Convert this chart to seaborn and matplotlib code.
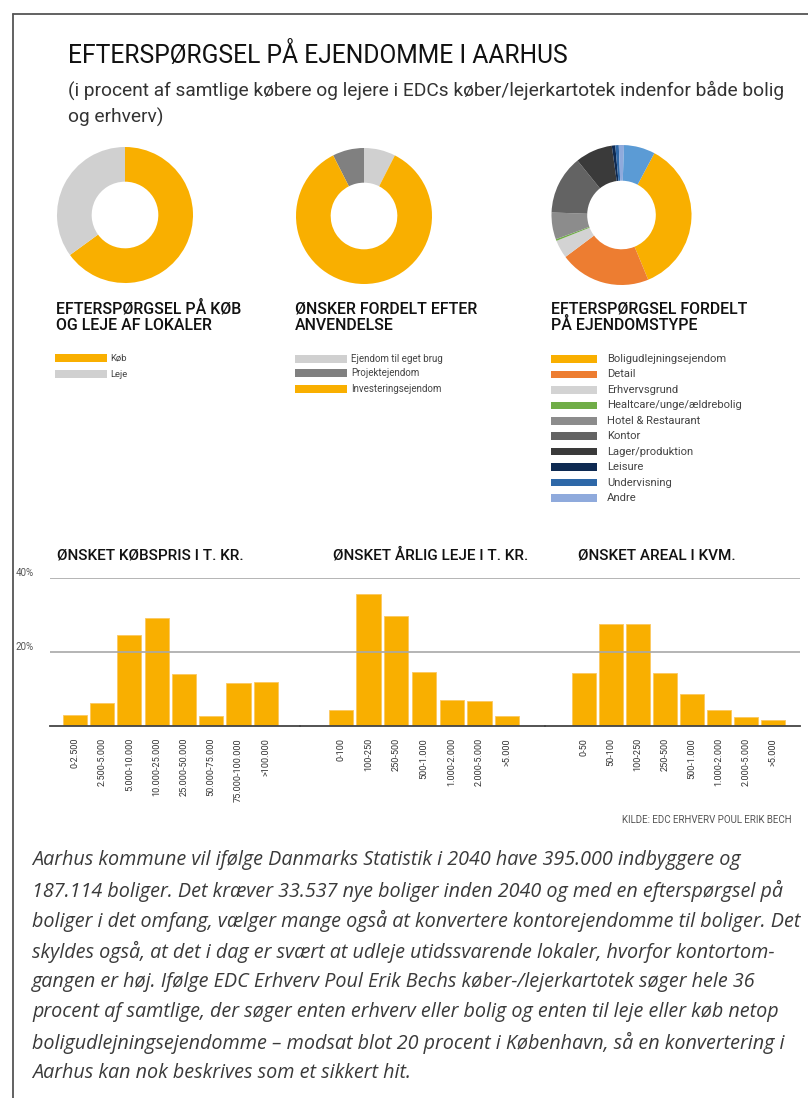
import matplotlib
matplotlib.use("Agg")
import matplotlib.pyplot as plt
from matplotlib.lines import Line2D
import seaborn as sns
import pandas as pd

# ---------------- data ----------------
title = "EFTERSPØRGSEL PÅ EJENDOMME I AARHUS"
subtitle_lines = ["(i procent af samtlige købere og lejere i EDCs køber/lejerkartotek indenfor både bolig",
                  "og erhverv)"]

donut1_title = ["EFTERSPØRGSEL PÅ KØB", "OG LEJE AF LOKALER"]
donut1_labels = ["Køb", "Leje"]
donut1_values = [65, 35]

donut2_title = ["ØNSKER FORDELT EFTER", "ANVENDELSE"]
donut2_labels = ["Ejendom til eget brug", "Projektejendom", "Investeringsejendom"]
donut2_values = [7.5, 7.5, 85]

donut3_title = ["EFTERSPØRGSEL FORDELT", "PÅ EJENDOMSTYPE"]
donut3_labels = ["Boligudlejningsejendom", "Detail", "Erhvervsgrund", "Healtcare/unge/ældrebolig",
                 "Hotel & Restaurant", "Kontor", "Lager/produktion", "Leisure", "Undervisning", "Andre",
                 "Øvrige"]
donut3_values = [36, 21, 4.2, 0.4, 6.2, 13.6, 8.6, 0.8, 0.8, 1.2, 7.2]
donut3_legend_count = 10

bar1_title = "ØNSKET KØBSPRIS I T. KR."
bar1_cats = ["0-2.500", "2.500-5.000", "5.000-10.000", "10.000-25.000", "25.000-50.000",
             "50.000-75.000", "75.000-100.000", ">100.000"]
bar1_vals = [2.8, 6.1, 24.6, 29.0, 14.0, 2.5, 11.4, 11.9]

bar2_title = "ØNSKET ÅRLIG LEJE I T. KR."
bar2_cats = ["0-100", "100-250", "250-500", "500-1.000", "1.000-2.000", "2.000-5.000", ">5.000"]
bar2_vals = [4.3, 35.6, 29.7, 14.5, 7.0, 6.6, 2.5]

bar3_title = "ØNSKET AREAL I KVM."
bar3_cats = ["0-50", "50-100", "100-250", "250-500", "500-1.000", "1.000-2.000", "2.000-5.000", ">5.000"]
bar3_vals = [14.3, 27.6, 27.6, 14.3, 8.5, 4.2, 2.4, 1.4]

y_ticks = [20, 40]
y_ticklabels = ["20%", "40%"]

source = "KILDE: EDC ERHVERV POUL ERIK BECH"

paragraph = [
    "Aarhus kommune vil ifølge Danmarks Statistik i 2040 have 395.000 indbyggere og",
    "187.114 boliger. Det kræver 33.537 nye boliger inden 2040 og med en efterspørgsel på",
    "boliger i det omfang, vælger mange også at konvertere kontorejendomme til boliger. Det",
    "skyldes også, at det i dag er svært at udleje utidssvarende lokaler, hvorfor kontortom-",
    "gangen er høj. Ifølge EDC Erhverv Poul Erik Bechs køber-/lejerkartotek søger hele 36",
    "procent af samtlige, der søger enten erhverv eller bolig og enten til leje eller køb netop",
    "boligudlejningsejendomme – modsat blot 20 procent i København, så en konvertering i",
    "Aarhus kan nok beskrives som et sikkert hit.",
]

# ---------------- style ----------------
ORANGE = "#F9AF00"
c1 = [ORANGE, "#D0D0D0"]
c2 = ["#D0D0D0", "#808080", ORANGE]
c3 = [ORANGE, "#ED7D31", "#D3D3D3", "#70AD47", "#8C8C8C", "#636363", "#3A3A3A",
      "#0E2A52", "#2E68A8", "#8FAADC", "#5B9BD5"]

sns.set_theme(style="white")
plt.rcParams["font.family"] = ["Roboto", "DejaVu Sans"]

W, H = 808, 1098
fig = plt.figure(figsize=(W / 100, H / 100), dpi=100)
fig.patch.set_facecolor("white")


def rect(x0, y0, w, h):
    return [x0 / W, 1 - (y0 + h) / H, w / W, h / H]


def ftext(x, y, s, **kw):
    fig.text(x / W, 1 - y / H, s, **kw)


# frame lines (top and left)
fig.add_artist(Line2D([13 / W, 1.0], [1 - 14 / H, 1 - 14 / H], color="#555555", lw=1.3,
                      transform=fig.transFigure))
fig.add_artist(Line2D([13 / W, 13 / W], [1 - 14 / H, 0], color="#555555", lw=1.3,
                      transform=fig.transFigure))

# title and subtitle
ftext(68, 63, title, fontsize=17.7, color="#111111", va="baseline", ha="left")
ftext(68, 96, subtitle_lines[0], fontsize=13.75, color="#333333", va="baseline")
ftext(68, 123, subtitle_lines[1], fontsize=13.75, color="#333333", va="baseline")

# ---------------- donuts ----------------
def donut(cx, cy, r, values, colors, startangle, counterclock):
    ax = fig.add_axes(rect(cx - r, cy - r, 2 * r, 2 * r))
    ax.pie(values, colors=colors, startangle=startangle, counterclock=counterclock,
           wedgeprops=dict(width=0.51, linewidth=0))
    ax.set_xlim(-1, 1)
    ax.set_ylim(-1, 1)
    ax.set_aspect("equal")
    ax.axis("off")


donut(125, 215, 68, donut1_values, c1, 90, False)
donut(364, 216, 68, donut2_values, c2, 63, True)
donut(621.5, 215, 70, donut3_values, c3, 62, False)

# legend titles
for x0, lines in [(56, donut1_title), (295, donut2_title), (551, donut3_title)]:
    ftext(x0, 313, lines[0], fontsize=11.4, weight="medium", color="#111111", va="baseline")
    ftext(x0, 330, lines[1], fontsize=11.4, weight="medium", color="#111111", va="baseline")


def legend(x0, sw, ys, labels, colors, fs, gap):
    for y, lab, col in zip(ys, labels, colors):
        fig.add_artist(plt.Rectangle(((x0) / W, 1 - (y + 3.8) / H), sw / W, 7.6 / H,
                                     transform=fig.transFigure, color=col, lw=0))
        ftext(x0 + sw + gap, y, lab, fontsize=fs, color="#444444", va="center")


legend(55, 52, [358, 374], donut1_labels, c1, 6.8, 3)
legend(295, 52, [359, 373, 389], donut2_labels, c2, 7.0, 4)
legend(551, 46, [359 + 15.45 * i for i in range(donut3_legend_count)],
       donut3_labels[:donut3_legend_count], c3[:donut3_legend_count], 8.1, 10)

# ---------------- bar charts ----------------
def bars(x_left, x_right, first_center, pitch, cats, vals, ttl, tx, show_y):
    ax = fig.add_axes(rect(x_left, 577.7, x_right - x_left, 725.5 - 577.7))
    df = pd.DataFrame({"cat": cats, "val": vals})
    sns.barplot(data=df, x="cat", y="val", color=ORANGE, saturation=1, width=0.88,
                edgecolor="#FBC860", linewidth=0.6, ax=ax)
    ax.set_xlim((x_left - first_center) / pitch, (x_right - first_center) / pitch)
    ax.set_ylim(0, 40)
    ax.set_yticks(y_ticks)
    ax.yaxis.grid(True, color="#A8A8A8", lw=1.2)
    ax.set_axisbelow(False)
    for s in ["top", "right", "left"]:
        ax.spines[s].set_visible(False)
    ax.spines["bottom"].set_color("#444444")
    ax.spines["bottom"].set_linewidth(1.3)
    ax.set_xlabel("")
    ax.set_ylabel("")
    ax.tick_params(axis="x", length=0, pad=9, labelsize=6.6, labelcolor="#333333", rotation=90)
    for lab in ax.get_xticklabels():
        lab.set_va("top")
    if show_y:
        ax.set_yticklabels(y_ticklabels)
        ax.tick_params(axis="y", length=0, pad=12, labelsize=7, labelcolor="#555555")
        for lab in ax.get_yticklabels():
            lab.set_va("bottom")
    else:
        ax.tick_params(axis="y", length=0, labelleft=False)
    ax.patch.set_alpha(0)
    ftext(tx, 555, ttl, fontsize=11, weight="medium", color="#111111", va="center")
    return ax


ax1 = bars(50, 300, 74.7, 27.3, bar1_cats, bar1_vals, bar1_title, 57, True)
ax2 = bars(300, 545, 340.9, 27.7, bar2_cats, bar2_vals, bar2_title, 333, False)
ax3 = bars(545, 800, 584.2, 27.0, bar3_cats, bar3_vals, bar3_title, 578, False)

ftext(622, 820, source, fontsize=7.0, color="#555555", va="center")

# paragraph
for i, line in enumerate(paragraph):
    ftext(32, 860 + 30.5 * i, line, fontsize=14.2, style="italic",
          family=["Open Sans", "DejaVu Sans"], color="#3A3A3A", va="center")

fig.savefig("out.png", dpi=100, facecolor="white")
